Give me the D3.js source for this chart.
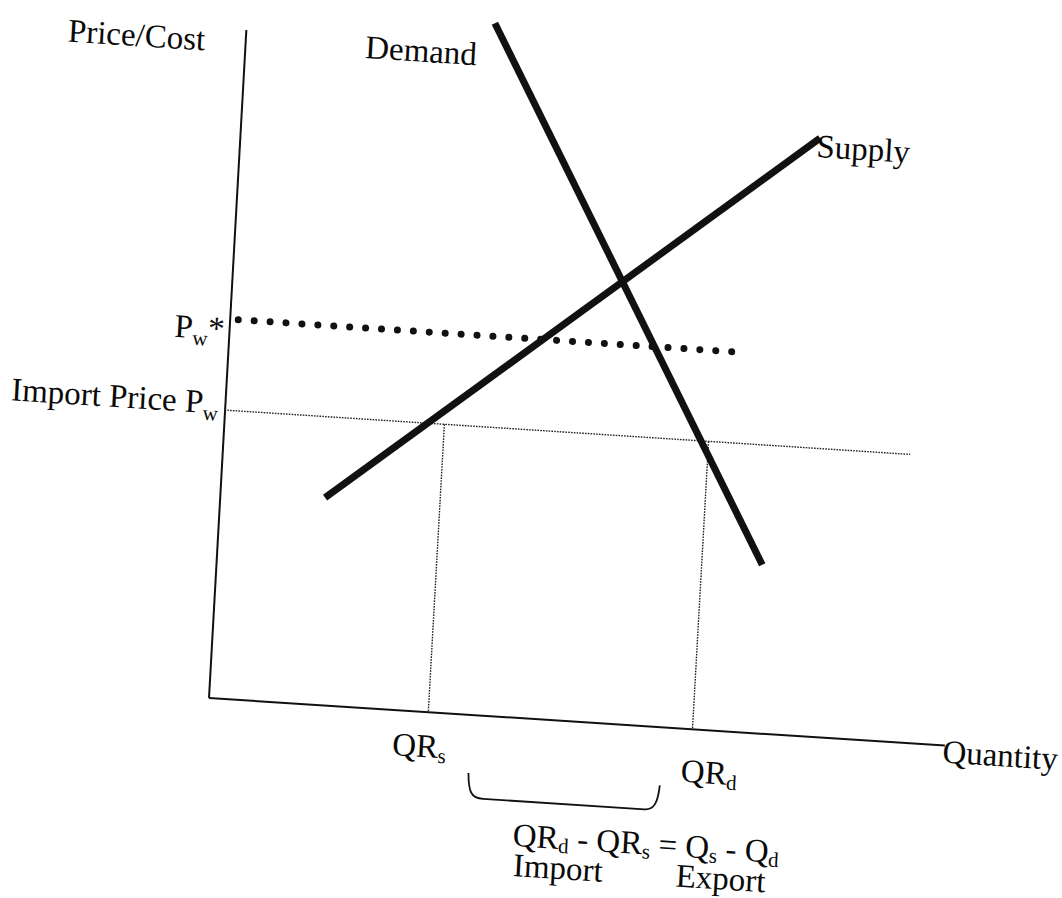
<!DOCTYPE html>
<html>
<head>
<meta charset="utf-8">
<script src="https://cdn.jsdelivr.net/npm/d3@7"></script>
<style>
  html, body { margin: 0; padding: 0; background: #fff; }
  svg { display: block; }
  text { font-family: "Liberation Serif", "Times New Roman", serif; fill: #0a0a0a; }
</style>
</head>
<body>
<svg id="chart" width="1062" height="898"></svg>
<script>
// ---- data (quantity / price units of the diagram) ----
const quantityDomain = [0, 100];
const priceDomain = [0, 100];
const demandQ = [33.6, 73.9];
const demandP = [103.4, 25.2];
const supplyQ = [14.2, 78.5];
const supplyP = [31.0, 89.4];
const importPrice = 43.1;            // Import Price Pw
const importPriceQ = [0.3, 93.1];
const worldPrice = 56.7;             // Pw*
const worldPriceQ = [1.1, 68.2];
const quotaLabels = ["QRs", "QRd"];
const quotaQ = [29.8, 65.7];
const bracketQ = [35.7, 61.7];

const svg = d3.select("#chart");
// scanned page is slightly rotated / sheared
const g = svg.append("g")
  .attr("transform", "matrix(0.99792,0.06453,-0.05582,0.99844,209,698)");

const x = d3.scaleLinear().domain(quantityDomain).range([0, 737.4]);
const y = d3.scaleLinear().domain(priceDomain).range([0, -669]);
const line = d3.line().x(d => x(d[0])).y(d => y(d[1]));

// axes
g.append("path").attr("d", line([[0, 0], [0, priceDomain[1]]]))
  .attr("stroke", "#111").attr("stroke-width", 2).attr("fill", "none");
g.append("path").attr("d", line([[0, 0], [quantityDomain[1], 0]]))
  .attr("stroke", "#111").attr("stroke-width", 2).attr("fill", "none");

// import price line (fine dotted)
g.append("path").attr("d", line(importPriceQ.map(q => [q, importPrice])))
  .attr("stroke", "#222").attr("stroke-width", 1.4).attr("stroke-dasharray", "1.6 1.2").attr("fill", "none");

// quota verticals
quotaQ.forEach(q => {
  g.append("path").attr("d", line([[q, importPrice], [q, 0]]))
    .attr("stroke", "#222").attr("stroke-width", 1.4).attr("stroke-dasharray", "1.6 1.2").attr("fill", "none");
});

// Pw* bold dotted line
g.append("path").attr("d", line(worldPriceQ.map(q => [q, worldPrice])))
  .attr("stroke", "#111").attr("stroke-width", 7).attr("stroke-linecap", "round")
  .attr("stroke-dasharray", "0 15.95").attr("fill", "none");

// demand & supply
g.append("path").attr("d", line(demandQ.map((q, i) => [q, demandP[i]])))
  .attr("stroke", "#111").attr("stroke-width", 7).attr("fill", "none");
g.append("path").attr("d", line(supplyQ.map((q, i) => [q, supplyP[i]])))
  .attr("stroke", "#111").attr("stroke-width", 7).attr("fill", "none");

// bracket
{
  const x0 = x(bracketQ[0]), x1 = x(bracketQ[1]);
  const top = 58, bot = 83;
  g.append("path")
    .attr("d", `M${x0},${top} C${x0 + 1},${bot - 6} ${x0 + 4},${bot} ${x0 + 16},${bot} L${x1 - 14},${bot} C${x1 - 4},${bot} ${x1 - 1},${bot - 8} ${x1},${top}`)
    .attr("stroke", "#111").attr("stroke-width", 1.8).attr("fill", "none");
}

// text helper with subscripts
const FS = 33, SUB = 21;
function label(px, py, parts, anchor, drop) {
  const d = drop == null ? 7 : drop;
  const t = g.append("text").attr("x", px).attr("y", py)
    .attr("font-size", FS).attr("text-anchor", anchor || "start");
  let shift = 0;
  parts.forEach(p => {
    const want = p.sub ? d : 0;
    t.append("tspan").attr("dy", want - shift)
      .attr("font-size", p.sub ? SUB : FS).text(p.t);
    shift = want;
  });
  return t;
}

label(-178, -646, [{t: "Price/Cost"}]);
label(x(demandQ[0]) - 128, y(demandP[0]) + 43, [{t: "Demand"}]);
label(x(supplyQ[1]) - 3, y(supplyP[1]) + 19, [{t: "Supply"}]);
label(-5, y(worldPrice) + 21, [{t: "P"}, {t: "w", sub: true}, {t: "*"}], "end");
label(-7, y(importPrice) + 4, [{t: "Import Price P"}, {t: "w", sub: true}], "end");
label(x(quotaQ[0]) - 7, 45, [{t: "QR"}, {t: "s", sub: true}], "middle", 5);
label(x(quotaQ[1]) + 19, 53, [{t: "QR"}, {t: "d", sub: true}], "middle", 5);
label(311, 128, [{t: "QR"}, {t: "d", sub: true}, {t: " - QR"}, {t: "s", sub: true},
                 {t: " = Q"}, {t: "s", sub: true}, {t: " - Q"}, {t: "d", sub: true}], "start", 4);
label(313, 158, [{t: "Import"}]);
label(476, 158, [{t: "Export"}]);
label(x(quantityDomain[1]) - 2, 17, [{t: "Quantity"}]);
</script>
</body>
</html>
